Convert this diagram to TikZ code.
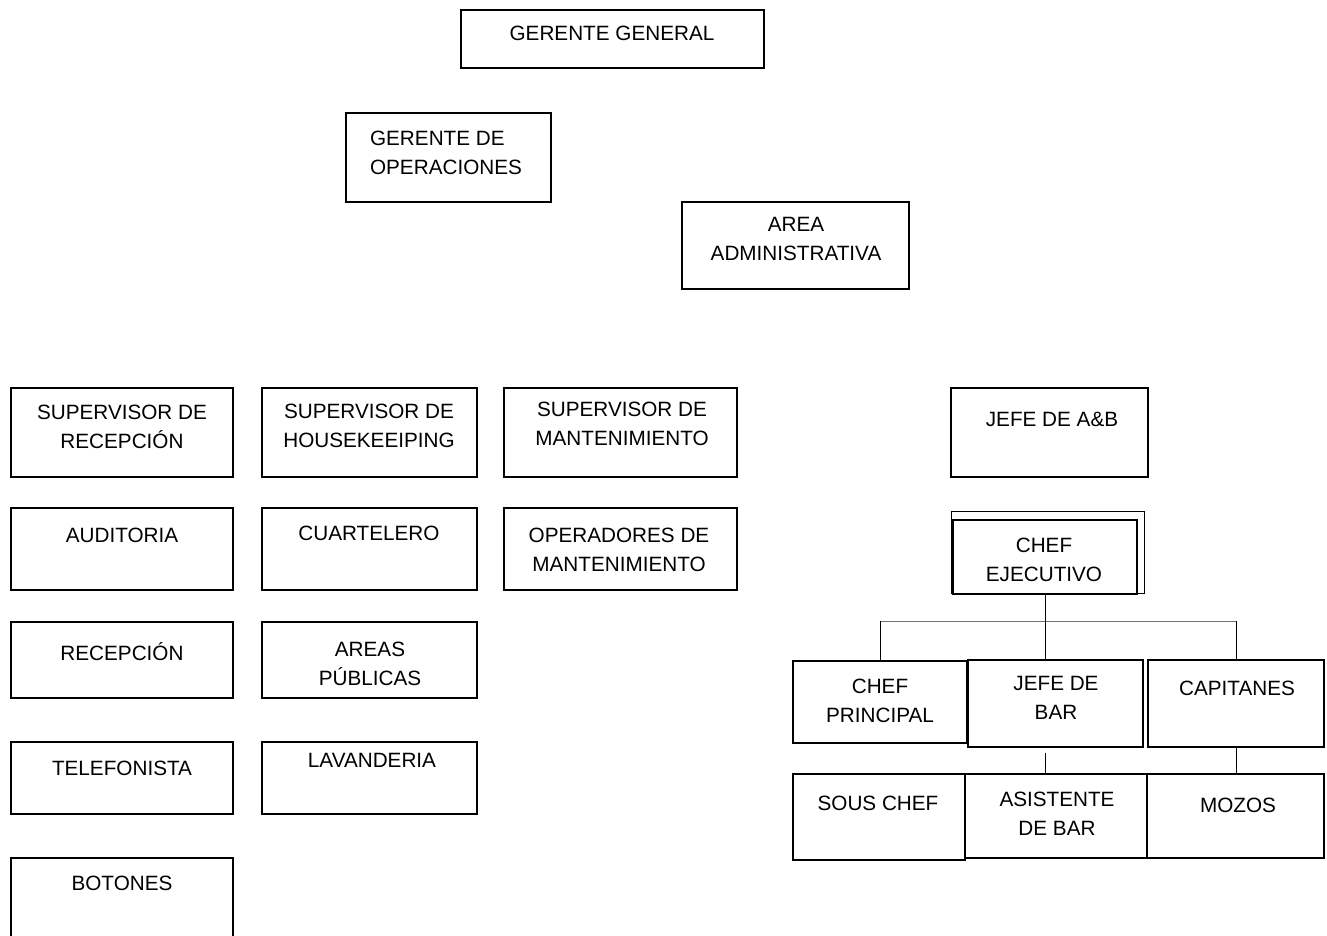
\documentclass[tikz,border=0pt]{standalone}
\usepackage{fontspec}
\setmainfont{Liberation Sans}
\usepackage{tikz}
\usetikzlibrary{positioning,calc}

\begin{document}
\begin{tikzpicture}[x=1pt,y=-1pt,
  unidad/.style={rectangle,draw=black,line width=2pt,inner sep=0pt},
  rotulo/.style={inner sep=0pt,align=center,text=black,
    font=\fontsize{20.7}{29}\selectfont},
  conector/.style={draw=black,line width=0.9pt},
  barra/.style={draw=black!55,line width=0.9pt}
]
\useasboundingbox (0,0) rectangle (1327,936);

% Top: general management
\node[unidad,minimum width=303,minimum height=58] (gg) at (612.5,39) {};
\node[rotulo] (gg-t) at (612,33) {GERENTE GENERAL};
\node[unidad,minimum width=205,minimum height=89] (gop) at (448.5,157.5) {};
\node[rotulo,align=left] (gop-t) at (446,152.5) {GERENTE DE\\OPERACIONES};
\node[unidad,minimum width=227,minimum height=87] (aadm) at (795.5,245.5) {};
\node[rotulo] (aadm-t) at (796,238.5) {AREA\\ADMINISTRATIVA};

% Left: front office
\node[unidad,minimum width=222,minimum height=89] (srec) at (122,432.5) {};
\node[rotulo] (srec-t) at (122,427) {SUPERVISOR DE\\RECEPCIÓN};
\node[unidad,minimum width=222,minimum height=82] (aud) at (122,549) {};
\node[rotulo] (aud-t) at (122,535) {AUDITORIA};
\node[unidad,minimum width=222,minimum height=76] (rec) at (122,660) {};
\node[rotulo] (rec-t) at (122,652) {RECEPCIÓN};
\node[unidad,minimum width=222,minimum height=72] (tel) at (122,778) {};
\node[rotulo] (tel-t) at (122,768) {TELEFONISTA};
\node[unidad,minimum width=222,minimum height=87] (bot) at (122,901.5) {};
\node[rotulo] (bot-t) at (122,883) {BOTONES};

% Left: housekeeping
\node[unidad,minimum width=215,minimum height=89] (shk) at (369.5,432.5) {};
\node[rotulo] (shk-t) at (369,425.5) {SUPERVISOR DE\\HOUSEKEEIPING};
\node[unidad,minimum width=215,minimum height=82] (cuar) at (369.5,549) {};
\node[rotulo] (cuar-t) at (369,533) {CUARTELERO};
\node[unidad,minimum width=215,minimum height=76] (apub) at (369.5,660) {};
\node[rotulo] (apub-t) at (370,663.5) {AREAS\\PÚBLICAS};
\node[unidad,minimum width=215,minimum height=72] (lav) at (369.5,778) {};
\node[rotulo] (lav-t) at (372,760) {LAVANDERIA};

% Left: maintenance
\node[unidad,minimum width=233,minimum height=89] (smant) at (620.5,432.5) {};
\node[rotulo] (smant-t) at (622,424) {SUPERVISOR DE\\MANTENIMIENTO};
\node[unidad,minimum width=233,minimum height=82] (opm) at (620.5,549) {};
\node[rotulo] (opm-t) at (619,549.5) {OPERADORES DE\\MANTENIMIENTO};

% Right: food and beverage
\node[unidad,minimum width=197,minimum height=89] (jab) at (1049.5,432.5) {};
\node[rotulo] (jab-t) at (1052,419) {JEFE DE A\&B};
\node[unidad,line width=1pt,minimum width=193,minimum height=82] (cheje-o) at (1047.5,552) {};
\node[unidad,line width=2.6pt,fill=white,minimum width=184,minimum height=74] (cheje) at (1045,557) {};
\node[rotulo] (cheje-t) at (1044,559.5) {CHEF\\EJECUTIVO};

\node[unidad,minimum width=174,minimum height=82] (cp) at (880,702) {};
\node[rotulo] (cp-t) at (880,701) {CHEF\\PRINCIPAL};
\node[unidad,minimum width=175,minimum height=87] (jbar) at (1055.5,703.5) {};
\node[rotulo] (jbar-t) at (1056,698) {JEFE DE\\BAR};
\node[unidad,minimum width=176,minimum height=87] (cap) at (1236,703.5) {};
\node[rotulo] (cap-t) at (1237,688) {CAPITANES};

\node[unidad,line width=2.8pt,minimum width=172,minimum height=86] (sous) at (879,817) {};
\node[rotulo] (sous-t) at (878,803) {SOUS CHEF};
\node[unidad,minimum width=182,minimum height=84] (asis) at (1056,816) {};
\node[rotulo] (asis-t) at (1057,813.5) {ASISTENTE\\DE BAR};
\node[unidad,minimum width=177,minimum height=84] (moz) at (1235.5,816) {};
\node[rotulo] (moz-t) at (1238,805) {MOZOS};

% Connectors
\draw[conector] (cheje.south) -- ++(0,26) coordinate (bus);
\draw[barra] (cp.north |- bus) -- (cap.north |- bus);
\draw[conector] (cp.north |- bus) -- (cp.north);
\draw[conector] (bus) -- (jbar.north -| bus);
\draw[conector] (cap.north |- bus) -- (cap.north);
\draw[conector] ($(jbar.south -| bus)+(0,5)$) -- (asis.north -| bus);
\draw[conector] (cap.south) -- (moz.north -| cap.south);

\end{tikzpicture}
\end{document}
